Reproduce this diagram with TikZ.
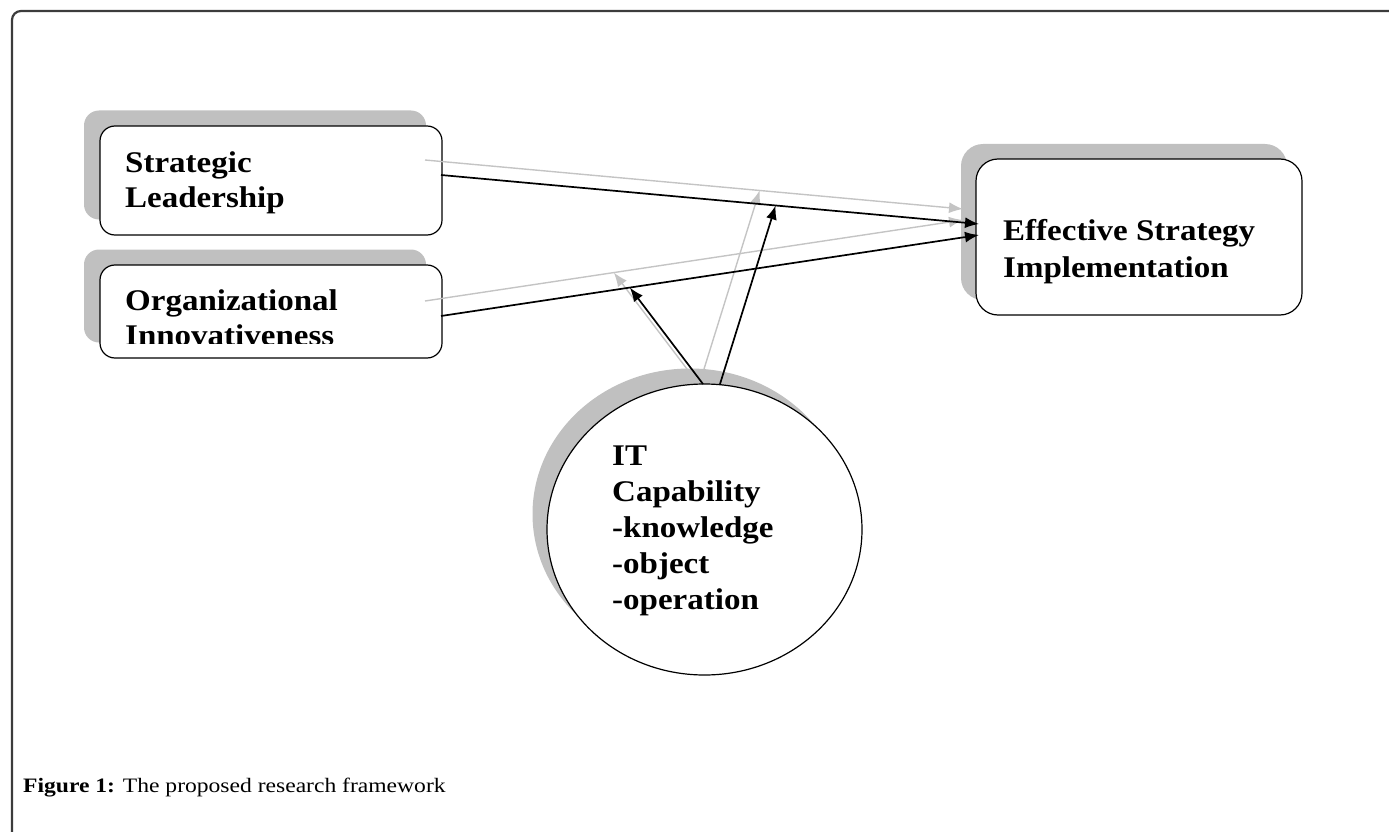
\documentclass[tikz,border=0pt]{standalone}
\usepackage{fontspec}
\setmainfont{Liberation Serif}
\newfontfamily\lblfont[FakeStretch=1.1]{Liberation Serif}
\newfontfamily\capfont[FakeStretch=1.15]{Liberation Serif}
\usetikzlibrary{arrows.meta,calc,shapes.geometric}
\definecolor{shadowgray}{RGB}{192,192,192}
\definecolor{linegray}{RGB}{196,196,196}
\definecolor{framegray}{RGB}{60,60,60}
\begin{document}
\begin{tikzpicture}[x=1pt,y=-1pt,
  shadowbox/.style={rectangle, fill=shadowgray, draw=none, inner sep=0},
  mainbox/.style={rectangle, draw=black, line width=1.2pt, fill=white, inner sep=0},
  lbl/.style={anchor=base west, inner sep=0, font=\lblfont\bfseries\fontsize{30}{36}\selectfont},
  link/.style={draw=black, line width=1.7pt, -{Latex[length=14pt,width=11pt]}},
  shadelink/.style={draw=linegray, line width=1.4pt, -{Latex[length=14pt,width=11pt]}}]

\useasboundingbox (0,0) rectangle (1389,832);

% outer frame
\draw[framegray, line width=2.2pt, rounded corners=9pt] (12,845) -- (12,11) -- (1400,11);

% shadows
\node[shadowbox, rounded corners=15pt, minimum width=342pt, minimum height=109pt] (slsh) at (255,165) {};
\node[shadowbox, rounded corners=15pt, minimum width=342pt, minimum height=93pt] (oish) at (255,296) {};
\node[shadowbox, rounded corners=22pt, minimum width=326pt, minimum height=156pt] (essh) at (1124,222) {};
\node[shadowbox, ellipse, minimum width=315pt, minimum height=291pt] (itsh) at (690,514) {};

% boxes
\node[mainbox, rounded corners=15pt, minimum width=342pt, minimum height=109pt] (sl) at (271,180.5) {};
\node[mainbox, rounded corners=15pt, minimum width=342pt, minimum height=93pt] (oi) at (271,311.5) {};
\node[mainbox, rounded corners=22pt, minimum width=326pt, minimum height=156pt] (es) at (1139,237) {};
\node[mainbox, ellipse, minimum width=315pt, minimum height=291pt] (it) at (704.5,529.5) {};

% connector end points
\coordinate (slA) at (441,175);
\coordinate (esA) at (979,224);
\coordinate (oiA) at (441,316);
\coordinate (esB) at (979,235);
\coordinate (itA) at (720,384);
\coordinate (itB) at (703,384);
\coordinate (tA) at ($(slA)!0.622!(esA)$);
\coordinate (tB) at ($(oiA)!0.351!(esB)$);

% shadow connectors
\draw[shadelink] ($(slA)+(-16,-15)$) -- ($(esA)+(-16,-15)$);
\draw[shadelink] ($(oiA)+(-16,-15)$) -- ($(esB)+(-16,-15)$);
\draw[shadelink] ($(itA)+(-16,-15)$) -- ($(tA)+(-16,-15)$);
\draw[shadelink] ($(itB)+(-16,-15)$) -- ($(tB)+(-16,-15)$);

% connectors
\draw[link] (slA) -- (esA);
\draw[link] (oiA) -- (esB);
\draw[link] (itA) -- (tA);
\draw[link] (itB) -- (tB);

% labels
\node[lbl] (sl1) at (125,172) {Strategic};
\node[lbl] (sl2) at (125,207) {Leadership};
\node[lbl] (oi1) at (125,310) {Organizational};
\begin{scope}
\clip (100,265) rectangle (442,343);
\node[lbl] (oi2) at (125,345) {Innovativeness};
\end{scope}
\node[lbl] (es1) at (1003,240) {Effective Strategy};
\node[lbl] (es2) at (1003,277) {Implementation};
\node[lbl] (it1) at (612,465) {IT};
\node[lbl] (it2) at (612,501) {Capability};
\node[lbl] (it3) at (612,537) {-knowledge};
\node[lbl] (it4) at (612,573) {-object};
\node[lbl] (it5) at (612,609) {-operation};

% caption
\node[anchor=base west, inner sep=0, font=\capfont\fontsize{20.5}{24}\selectfont] (cap) at (23,792) {\textbf{Figure 1:} The proposed research framework};
\end{tikzpicture}
\end{document}
